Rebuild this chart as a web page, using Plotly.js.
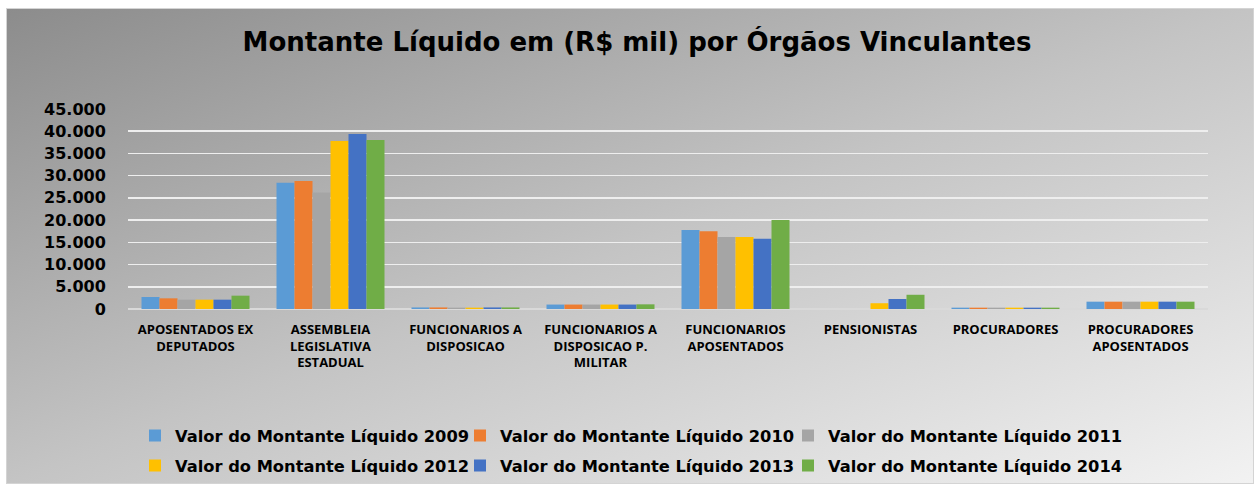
<!DOCTYPE html>
<html>
<head>
<meta charset="utf-8">
<script src="https://cdn.plot.ly/plotly-3.0.1.min.js"></script>
<style>
html,body{margin:0;padding:0;background:#ffffff;width:1254px;height:484px;overflow:hidden;}
#bg{position:absolute;left:6px;top:8px;width:1246px;height:474px;border:1px solid #d4d4d4;
background:linear-gradient(to bottom right,#8c8c8c 0%,#c4c4c4 50%,#f2f2f2 100%);}
#chart{position:absolute;left:0;top:0;width:1254px;height:484px;}
</style>
</head>
<body>
<div id="bg"></div>
<div id="chart"></div>
<script>
const categories = [
  "APOSENTADOS EX<br>DEPUTADOS",
  "ASSEMBLEIA<br>LEGISLATIVA<br>ESTADUAL",
  "FUNCIONARIOS A<br>DISPOSICAO",
  "FUNCIONARIOS A<br>DISPOSICAO P.<br>MILITAR",
  "FUNCIONARIOS<br>APOSENTADOS",
  "PENSIONISTAS",
  "PROCURADORES",
  "PROCURADORES<br>APOSENTADOS"
];
const seriesNames = [
  "Valor do Montante Líquido 2009",
  "Valor do Montante Líquido 2010",
  "Valor do Montante Líquido 2011",
  "Valor do Montante Líquido 2012",
  "Valor do Montante Líquido 2013",
  "Valor do Montante Líquido 2014"
];
const v2009 = [2700, 28400, 350, 1000, 17800, 0, 300, 1650];
const v2010 = [2400, 28800, 350, 1000, 17500, 0, 300, 1650];
const v2011 = [2100, 26200, 300, 1000, 16200, 0, 300, 1650];
const v2012 = [2100, 37800, 300, 1000, 16200, 1300, 300, 1650];
const v2013 = [2100, 39400, 350, 1000, 15800, 2250, 300, 1650];
const v2014 = [3000, 38000, 350, 1050, 20000, 3200, 300, 1650];
const seriesValues = [v2009, v2010, v2011, v2012, v2013, v2014];
const colors = ["#5B9BD5", "#ED7D31", "#A5A5A5", "#FFC000", "#4472C4", "#70AD47"];
const yTicks = [0, 5000, 10000, 15000, 20000, 25000, 30000, 35000, 40000, 45000];

const legendIds = ["legend", "legend2", "legend3", "legend4", "legend5", "legend6"];
const traces = seriesNames.map((name, i) => ({
  type: "bar",
  name: name,
  x: categories,
  y: seriesValues[i],
  marker: {color: colors[i], line: {width: 0}},
  legend: legendIds[i],
  hoverinfo: "y+name"
}));

const legendFont = {family: "DejaVu Sans", size: 16.3, color: "#000", weight: "bold"};
const W = 1254, H = 484;
const legX = [135, 460, 788];
const legY = [436, 466];

const layout = {
  width: W, height: H,
  paper_bgcolor: "rgba(0,0,0,0)",
  plot_bgcolor: "rgba(0,0,0,0)",
  separators: ",.",
  margin: {l: 128, r: 46, t: 109, b: 175, autoexpand: false},
  title: {
    text: "Montante Líquido em (R$ mil) por Órgãos Vinculantes",
    font: {family: "DejaVu Sans", size: 26, color: "#000", weight: "bold"},
    x: 0.508, xanchor: "center", y: 0.913, yanchor: "middle", yref: "container"
  },
  bargap: 0.2,
  bargroupgap: 0,
  barmode: "group",
  xaxis: {
    showgrid: false, zeroline: false, showline: false,
    ticks: "outside", ticklen: 8, tickcolor: "rgba(0,0,0,0)",
    tickangle: 0,
    tickfont: {family: "Open Sans", size: 13, color: "#000", weight: "bold"}
  },
  yaxis: {
    range: [0, 45000],
    tickvals: yTicks,
    tickformat: ",d",
    showgrid: true, gridcolor: "#eeeeee", gridwidth: 1.5,
    zeroline: true, zerolinecolor: "#d9d9d9", zerolinewidth: 1.5,
    showline: false,
    ticks: "outside", ticklen: 18, tickcolor: "rgba(0,0,0,0)",
    tickfont: {family: "DejaVu Sans", size: 16, color: "#000", weight: "bold"}
  },
  showlegend: true
};
legendIds.forEach((id, i) => {
  layout[id] = {
    orientation: "h",
    xref: "container", yref: "container",
    x: legX[i % 3] / W, xanchor: "left",
    y: 1 - legY[Math.floor(i / 3)] / H, yanchor: "middle",
    font: legendFont, bgcolor: "rgba(0,0,0,0)", borderwidth: 0, itemwidth: 30
  };
});

Plotly.newPlot("chart", traces, layout, {displayModeBar: false, staticPlot: true});
</script>
</body>
</html>
